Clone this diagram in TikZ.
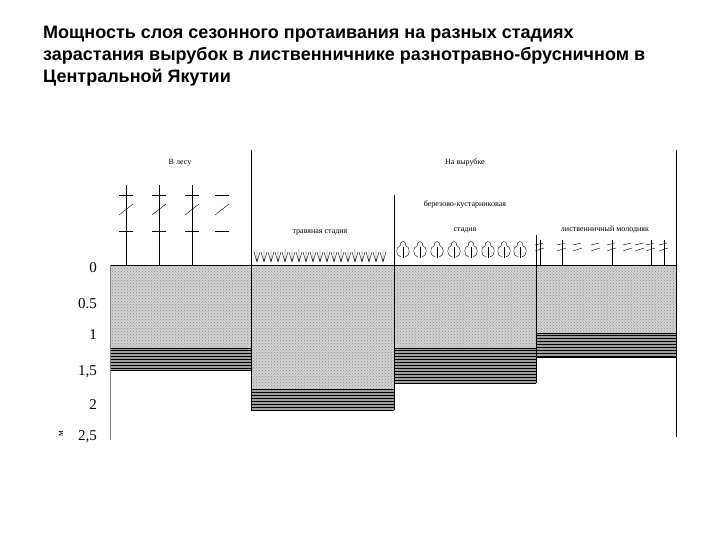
\documentclass[tikz,border=0pt]{standalone}
\usepackage{fontspec}
\setmainfont{Liberation Serif}
\newfontfamily\titlefont{Liberation Sans}
\usetikzlibrary{patterns}
\begin{document}
\begin{tikzpicture}[x=1pt,y=-1pt,
  lightsoil/.style={fill=gray!35,postaction={pattern=crosshatch dots,pattern color=gray!90}},
  darksoil/.style={fill=gray!75,postaction={pattern=horizontal lines,pattern color=black}},
  lbl/.style={font=\fontsize{8}{9}\selectfont,inner sep=0pt},
  axl/.style={font=\fontsize{15}{16}\selectfont,anchor=east,inner sep=0pt},
  tline/.style={line width=0.7pt}]
\useasboundingbox (0,0) rectangle (720,540);
\node[anchor=north west,align=left,font=\titlefont\bfseries\fontsize{18}{22}\selectfont,inner sep=0pt] (title) at (43,26)
{Мощность слоя сезонного протаивания на разных стадиях\\зарастания вырубок в лиственничнике разнотравно-брусничном в\\Центральной Якутии};
% soil columns
\path[lightsoil] (110,265) rectangle (251,348);
\path[darksoil] (110,348) rectangle (251,370);
\path[lightsoil] (251,265) rectangle (394,389);
\path[darksoil] (251,389) rectangle (394,410);
\path[lightsoil] (394,265) rectangle (536,348);
\path[darksoil] (394,348) rectangle (536,383);
\path[lightsoil] (536,265) rectangle (676,333);
\path[darksoil] (536,333) rectangle (676,357);
\draw[black] (110,265) -- (676,265);
\draw (110,348)--(251,348) (251,389)--(394,389) (394,348)--(536,348) (536,333)--(676,333);
\draw (110,370)--(251,370) (251,410)--(394,410) (394,383)--(536,383) (536,357)--(676,357);
% axis and dividers
\draw[gray] (110,265) -- (110,440);
\draw (251,150) -- (251,410);
\draw (394,195) -- (394,410);
\draw (536,235) -- (536,383);
\draw (676,150) -- (676,437);
% axis labels
\node[axl] (a0) at (97,268) {0};
\node[axl] (a1) at (97,304) {0.5};
\node[axl] (a2) at (97,335) {1};
\node[axl] (a3) at (97,372) {1,5};
\node[axl] (a4) at (97,405) {2};
\node[axl] (a5) at (97,437) {2,5};
\node[lbl,rotate=90,font=\fontsize{9}{9}\selectfont] (unit) at (61,434) {м};
% texts
\node[lbl] (t1) at (180,163) {В лесу};
\node[lbl] (t2) at (465,163) {На вырубке};
\node[lbl] (t3) at (320,232) {травяная стадия};
\node[lbl] (t4) at (465,205) {березово-кустарниковая};
\node[lbl] (t5) at (465,230) {стадия};
\node[lbl] (t6) at (605,230) {лиственничный молодняк};
% forest trees
\foreach \x in {126,159,192} {\draw[tline] (\x,185)--(\x,265);}
\foreach \x in {126,159,192,222} {
  \draw (\x-7,195)--(\x+7,195) (\x-7,231)--(\x+7,231);
  \draw (\x-7,215)--(\x+7,204);}
% grass
\foreach \i in {0,...,18} {
  \pgfmathsetmacro\xx{257+\i*7}
  \draw (\xx-3,252)--(\xx,262)--(\xx+3,252) (\xx,262)--(\xx,250);}
% deciduous shrubs
\foreach \x in {403,420,437,454,471,488,504,520} {
  \draw (\x,258)--(\x,247);
  \draw (\x-2,257) .. controls (\x-8,256) and (\x-7,246) .. (\x-3,246)
        .. controls (\x-3,240) and (\x+3,240) .. (\x+3,246)
        .. controls (\x+7,246) and (\x+8,256) .. (\x+2,257);}
% larch saplings
\foreach \x/\t in {540/1,562/1,578/0,596/0,612/1,628/0,640/0,651/1,664/1} {
  \ifnum\t=1 \draw[tline] (\x,240)--(\x,265); \fi
  \draw (\x-5,245)--(\x+3,243) (\x-5,251)--(\x+4,248);}
\end{tikzpicture}
\end{document}
